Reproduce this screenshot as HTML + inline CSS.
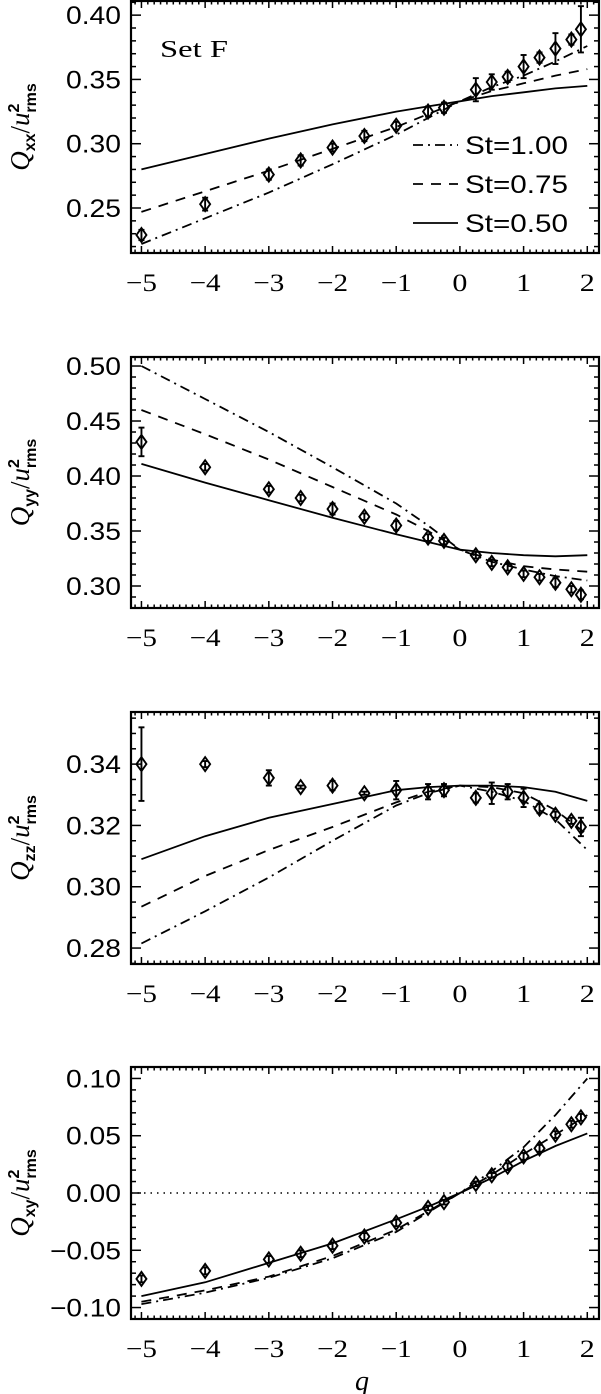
<!DOCTYPE html>
<html><head><meta charset="utf-8"><style>
html,body{margin:0;padding:0;background:#fff;}
svg{display:block;}
</style></head><body>
<svg id="fig" width="601" height="1394" viewBox="0 0 601 1394" xmlns="http://www.w3.org/2000/svg" font-family="Liberation Sans, sans-serif">
</svg>
<script>
// ---- data ----
const qData = [-5,-4,-3,-2.5,-2,-1.5,-1,-0.5,-0.25,0.25,0.5,0.75,1,1.25,1.5,1.75,1.9];
const qCurve = [-5,-4,-3,-2,-1,-0.5,0,0.5,1,1.5,2];

const qxxData = [0.229,0.253,0.276,0.287,0.297,0.306,0.314,0.325,0.328,0.342,0.348,0.352,0.360,0.367,0.374,0.381,0.389];
const qxxErr  = [0.004,0.005,0.004,0.004,0.003,0.004,0.003,0.004,0.004,0.009,0.006,0.004,0.009,0.004,0.012,0.004,0.018];
const qxxSt100 = [0.222,0.242,0.262,0.284,0.307,0.320,0.333,0.344,0.353,0.364,0.376];
const qxxSt075 = [0.247,0.263,0.279,0.296,0.313,0.323,0.333,0.341,0.347,0.353,0.358];
const qxxSt050 = [0.280,0.292,0.304,0.315,0.325,0.329,0.333,0.337,0.340,0.343,0.345];

const qyyData = [0.431,0.408,0.388,0.380,0.370,0.363,0.355,0.344,0.341,0.328,0.321,0.317,0.311,0.308,0.303,0.297,0.292];
const qyyErr  = [0.013,0.003,0.003,0.003,0.005,0.003,0.004,0.003,0.003,0.003,0.003,0.003,0.003,0.003,0.004,0.003,0.004];
const qyySt100 = [0.500,0.470,0.440,0.408,0.375,0.355,0.333,0.322,0.315,0.309,0.305];
const qyySt075 = [0.460,0.438,0.415,0.390,0.365,0.350,0.333,0.324,0.318,0.315,0.313];
const qyySt050 = [0.411,0.394,0.378,0.362,0.347,0.340,0.333,0.330,0.328,0.327,0.328];

const qzzData = [0.340,0.340,0.3355,0.3325,0.333,0.3305,0.3315,0.331,0.3315,0.329,0.3305,0.331,0.329,0.3255,0.3235,0.3215,0.3195];
const qzzErr  = [0.012,0.001,0.0025,0.0005,0.0015,0.0005,0.003,0.0025,0.002,0.0015,0.0035,0.0025,0.003,0.0015,0.001,0.001,0.003];
const qzzSt100 = [0.2815,0.292,0.303,0.315,0.3265,0.3305,0.333,0.331,0.328,0.322,0.312];
const qzzSt075 = [0.2935,0.3035,0.312,0.3195,0.3275,0.331,0.333,0.3325,0.3305,0.325,0.317];
const qzzSt050 = [0.309,0.3165,0.3225,0.327,0.3315,0.3325,0.333,0.333,0.3325,0.331,0.328];

const qxyData = [-0.075,-0.068,-0.058,-0.053,-0.046,-0.038,-0.026,-0.013,-0.008,0.008,0.0155,0.023,0.032,0.039,0.051,0.060,0.066];
const qxyErr  = [0.003,0.003,0.003,0.003,0.003,0.003,0.003,0.002,0.002,0.002,0.002,0.003,0.003,0.003,0.003,0.003,0.003];
const qxySt100 = [-0.097,-0.087,-0.074,-0.057,-0.034,-0.017,0,0.019,0.040,0.068,0.100];
const qxySt075 = [-0.095,-0.085,-0.073,-0.055,-0.032,-0.016,0,0.016,0.034,0.051,0.068];
const qxySt050 = [-0.090,-0.078,-0.061,-0.044,-0.023,-0.012,0,0.013,0.028,0.041,0.052];

const xTicks = [-5,-4,-3,-2,-1,0,1,2];
const yTicks1 = [0.25,0.30,0.35,0.40];
const yTicks2 = [0.30,0.35,0.40,0.45,0.50];
const yTicks3 = [0.28,0.30,0.32,0.34];
const yTicks4 = [-0.10,-0.05,0.00,0.05,0.10];
const legendLabels = ["St=1.00","St=0.75","St=0.50"];

// ---- layout ----
const svg = document.getElementById('fig');
const NS = 'http://www.w3.org/2000/svg';
const L = 131, R = 599, XMIN = -5.164, XMAX = 2.184;
const sx = v => L + (v - XMIN) / (XMAX - XMIN) * (R - L);
const dashes = ['10,5,2,5', '10,8', null];
const curveNames = ['st-1-00','st-0-75','st-0-50'];

function mk(tag, attrs, parent){
  const e = document.createElementNS(NS, tag);
  for (const k in attrs) e.setAttribute(k, attrs[k]);
  (parent||svg).appendChild(e);
  return e;
}
function labelWidth(s){
  let w = 0;
  for (const ch of s) w += ch === '.' ? 7 : 16;
  return w;
}

const panels = [
  {key:'qxx', sub:'xx', top:1, bot:253, ymin:0.215, ymax:0.411, ticks:yTicks1, minor:0.01,
   data:qxxData, err:qxxErr, curves:[qxxSt100,qxxSt075,qxxSt050]},
  {key:'qyy', sub:'yy', top:357, bot:608, ymin:0.280, ymax:0.5082, ticks:yTicks2, minor:0.01,
   data:qyyData, err:qyyErr, curves:[qyySt100,qyySt075,qyySt050]},
  {key:'qzz', sub:'zz', top:712, bot:964, ymin:0.2748, ymax:0.357, ticks:yTicks3, minor:0.005,
   data:qzzData, err:qzzErr, curves:[qzzSt100,qzzSt075,qzzSt050]},
  {key:'qxy', sub:'xy', top:1067, bot:1319, ymin:-0.110, ymax:0.110, ticks:yTicks4, minor:0.01,
   data:qxyData, err:qxyErr, curves:[qxySt100,qxySt075,qxySt050]}
];

panels.forEach((p, pi) => {
  const sy = v => p.bot - (v - p.ymin) / (p.ymax - p.ymin) * (p.bot - p.top);
  const g = mk('g', {});
  
  

  const cp = mk('clipPath', {id:'clip'+pi}, g);
  mk('rect', {x:L, y:p.top, width:R-L, height:p.bot-p.top}, cp);

  const ticks = mk('g', {stroke:'#000','stroke-width':1.5}, g);
  
  
  for (let i = -52; i <= 22; i++) {
    const v = i/10; const x = sx(v);
    if (x < L || x > R) continue;
    const major = i % 10 === 0;
    const len = major ? 7 : 3.5;
    mk('line', {x1:x, y1:p.bot, x2:x, y2:p.bot-len}, ticks);
    mk('line', {x1:x, y1:p.top, x2:x, y2:p.top+len}, ticks);
  }
  const n0 = Math.ceil(p.ymin/p.minor - 1e-9), n1 = Math.floor(p.ymax/p.minor + 1e-9);
  for (let i = n0; i <= n1; i++) {
    const v = i*p.minor; const y = sy(v);
    const major = p.ticks.some(t => Math.abs(t - v) < 1e-9);
    const len = major ? 10 : 5;
    mk('line', {x1:L, y1:y, x2:L+len, y2:y}, ticks);
    mk('line', {x1:R, y1:y, x2:R-len, y2:y}, ticks);
  }

  p.ticks.forEach(t => {
    const s = (t < 0 ? '\u2212' : '') + Math.abs(t).toFixed(2);
    const tx = mk('text', {x:121, y:sy(t)+9, 'text-anchor':'end', 'font-size':25,
      textLength:labelWidth(s), lengthAdjust:'spacingAndGlyphs'});
    tx.textContent = s;
    
    
  });
  xTicks.forEach(t => {
    const s = (t < 0 ? '\u2212' : '') + Math.abs(t);
    const tx = mk('text', {x:sx(t), y:p.bot+38, 'text-anchor':'middle', 'font-size':25,
      'font-family':'Liberation Serif, serif', textLength:(t<0?31:15), lengthAdjust:'spacingAndGlyphs'});
    tx.textContent = s;
    
    
  });

  const mid = (p.top + p.bot)/2;
  const yt = mk('text', {transform:`translate(29,${mid}) rotate(-90)`, 'text-anchor':'middle', 'font-size':27, 'font-family':'Liberation Serif, serif'});
  
  
  yt.innerHTML = `<tspan font-style="italic">Q</tspan><tspan font-size="16" font-weight="bold" dy="6" font-family="Liberation Sans, sans-serif">${p.sub}</tspan><tspan dy="-6">/</tspan><tspan font-style="italic">u</tspan><tspan font-size="16" font-weight="bold" dy="-10" font-family="Liberation Sans, sans-serif">2</tspan><tspan font-size="16" font-weight="bold" dx="-9" dy="17" font-family="Liberation Sans, sans-serif">rms</tspan>`;

  const plot = mk('g', {'clip-path':`url(#clip${pi})`}, g);

  if (p.key === 'qxy') {
    const z = mk('line', {x1:L, y1:sy(0), x2:R, y2:sy(0), stroke:'#000', 'stroke-width':1.5, 'stroke-dasharray':'1.5,5'}, plot);
    
    
  }

  p.curves.forEach((c, ci) => {
    const d = c.map((v, i) => (i ? 'L' : 'M') + sx(qCurve[i]).toFixed(1) + ',' + sy(v).toFixed(1)).join('');
    const a = {d:d, fill:'none', stroke:'#000', 'stroke-width':1.8};
    if (dashes[ci]) a['stroke-dasharray'] = dashes[ci];
    const path = mk('path', a, plot);
    
    
  });

  p.data.forEach((v, i) => {
    const x = sx(qData[i]), y = sy(v);
    const pg = mk('g', {stroke:'#000', 'stroke-width':1.9, fill:'none'}, plot);
    
    
    const y1 = sy(v + p.err[i]), y2 = sy(v - p.err[i]);
    mk('line', {x1:x, y1:y1, x2:x, y2:y2}, pg);
    mk('line', {x1:x-3, y1:y1, x2:x+3, y2:y1}, pg);
    mk('line', {x1:x-3, y1:y2, x2:x+3, y2:y2}, pg);
    mk('path', {d:`M${x-5},${y}L${x},${y-7}L${x+5},${y}L${x},${y+7}Z`}, pg);
  });

  const fr = mk('rect', {x:L, y:p.top, width:R-L, height:p.bot-p.top, fill:'none', stroke:'#000', 'stroke-width':2.2}, g);
  
  

  if (pi === 0) {
    const sf = mk('text', {x:160, y:57, 'font-size':24, 'font-family':'Liberation Serif, serif', textLength:68, lengthAdjust:'spacingAndGlyphs'}, g);
    sf.textContent = 'Set F';
    
    
    legendLabels.forEach((lab, li) => {
      const ly = 145 + li*39;
      const lg = mk('g', {}, g);
      
      
      const la = {x1:413, y1:ly, x2:458, y2:ly, stroke:'#000', 'stroke-width':1.8};
      if (dashes[li]) la['stroke-dasharray'] = dashes[li];
      mk('line', la, lg);
      const t = mk('text', {x:465, y:ly+9, 'font-size':25, textLength:103, lengthAdjust:'spacingAndGlyphs'}, lg);
      t.textContent = lab;
    });
  }
});

const ql = mk('text', {x:362, y:1390, 'text-anchor':'middle', 'font-size':28, 'font-style':'italic', 'font-family':'Liberation Serif, serif'});
ql.textContent = 'q';


</script>
</body></html>
